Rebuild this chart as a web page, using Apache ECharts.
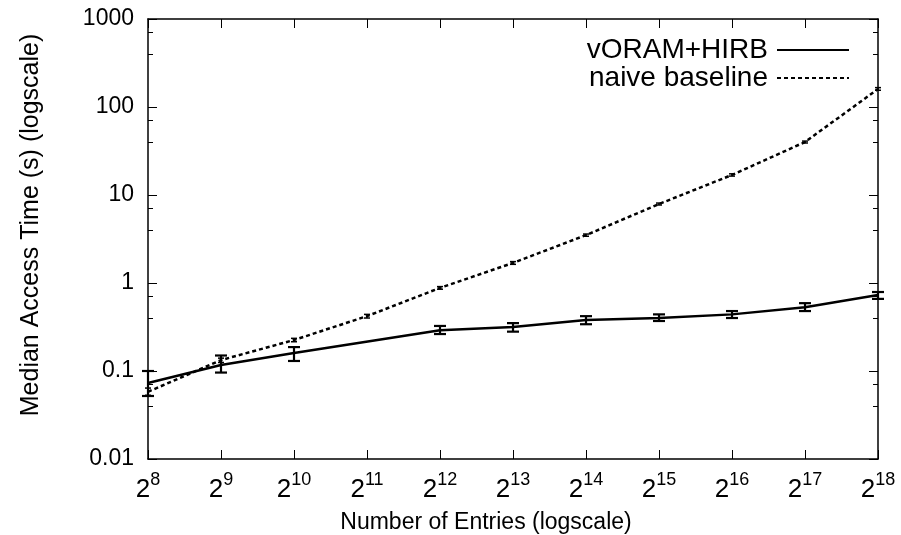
<!DOCTYPE html>
<html><head><meta charset="utf-8">
<script src="https://cdn.jsdelivr.net/npm/echarts@6/dist/echarts.min.js"></script>
<style>html,body{margin:0;padding:0;background:#fff}#c{width:901px;height:535px}</style>
</head><body><div id="c"></div>
<script>
const exponents = [8, 9, 10, 11, 12, 13, 14, 15, 16, 17, 18];
const voramMedian = [0.073, 0.117, 0.16, null, 0.29, 0.316, 0.38, 0.40, 0.44, 0.53, 0.73];
const voramLow =    [0.052, 0.096, 0.13, null, 0.263, 0.28, 0.34, 0.37, 0.40, 0.48, 0.66];
const voramHigh =   [0.10, 0.15, 0.187, null, 0.325, 0.35, 0.42, 0.44, 0.48, 0.59, 0.79];
const naiveMedian = [0.058, 0.133, 0.225, 0.42, 0.88, 1.69, 3.5, 7.9, 16.9, 40, 160];
const naiveLow =    [0.053, 0.125, 0.215, 0.40, 0.85, 1.63, 3.4, 7.7, 16.4, 39, 155];
const naiveHigh =   [0.064, 0.14, 0.235, 0.44, 0.91, 1.75, 3.6, 8.1, 17.4, 41, 166];
const yTicks = [0.01, 0.1, 1, 10, 100, 1000];

const FONT = 'Liberation Sans';
const chart = echarts.init(document.getElementById('c'));

function pairs(xs, ys) { return xs.map((x, i) => [x, ys[i]]); }
function errData(lo, hi) {
  const out = [];
  exponents.forEach((x, i) => { if (lo[i] != null) out.push([x, lo[i], hi[i]]); });
  return out;
}
function errSeries(data, cap, width) {
  return {
    type: 'custom', data: data, z: 5, silent: true,
    renderItem: function (params, api) {
      const x = api.value(0);
      const p1 = api.coord([x, api.value(1)]);
      const p2 = api.coord([x, api.value(2)]);
      const st = { stroke: '#000', lineWidth: width };
      return { type: 'group', children: [
        { type: 'line', shape: { x1: p1[0], y1: p1[1], x2: p2[0], y2: p2[1] }, style: st },
        { type: 'line', shape: { x1: p1[0] - cap, y1: p1[1], x2: p1[0] + cap, y2: p1[1] }, style: st },
        { type: 'line', shape: { x1: p2[0] - cap, y1: p2[1], x2: p2[0] + cap, y2: p2[1] }, style: st }
      ]};
    }
  };
}

const axisLine = { show: true, lineStyle: { color: '#000', width: 1.5 } };
const option = {
  animation: false,
  backgroundColor: '#fff',
  grid: { left: 148, right: 23, top: 19, bottom: 76, outerBoundsMode: 'none', containLabel: false },
  legend: {
    orient: 'vertical', right: 46, top: 31, align: 'right',
    itemWidth: 72, itemHeight: 12, itemGap: 0,
    itemStyle: { opacity: 0 },
    textStyle: { fontFamily: FONT, fontSize: 28, color: '#000', lineHeight: 26, padding: [0, 4, 0, 0] },
    data: ['vORAM+HIRB', 'naive baseline']
  },
  xAxis: [{
    type: 'value', min: 8, max: 18, interval: 1,
    name: 'Number of Entries (logscale)', nameLocation: 'middle', nameGap: 52,
    nameTextStyle: { fontFamily: FONT, fontSize: 23, color: '#000', padding: [0, 54, 0, 0] },
    axisLine: axisLine,
    axisTick: { inside: true, length: 9, lineStyle: { color: '#000', width: 1 } },
    splitLine: { show: false },
    axisLabel: {
      margin: 12,
      formatter: v => '{b|2}{s|' + v + '}',
      rich: {
        b: { fontFamily: FONT, fontSize: 26, color: '#000', verticalAlign: 'bottom' },
        s: { fontFamily: FONT, fontSize: 18, color: '#000', verticalAlign: 'top', padding: [0, 0, 14, 0] }
      }
    }
  }, {
    type: 'value', min: 8, max: 18, interval: 1, position: 'top',
    axisLine: axisLine,
    axisTick: { inside: true, length: 9, lineStyle: { color: '#000', width: 1 } },
    axisLabel: { show: false }, splitLine: { show: false }
  }],
  yAxis: [{
    type: 'log', logBase: 10, min: 0.01, max: 1000,
    name: 'Median Access Time (s) (logscale)', nameLocation: 'middle', nameGap: 104,
    nameTextStyle: { fontFamily: FONT, fontSize: 25, color: '#000', padding: [0, 0, 0, 28] },
    axisLine: axisLine,
    axisTick: { inside: true, length: 9, lineStyle: { color: '#000', width: 1 } },
    minorTick: { show: true, splitNumber: 3, length: 5, lineStyle: { color: '#000', width: 1 } },
    splitLine: { show: false },
    axisLabel: {
      margin: 14, fontFamily: FONT, fontSize: 23, color: '#000',
      formatter: v => { const t = yTicks.find(k => Math.abs(k - v) / k < 1e-6); return t != null ? String(t) : ''; }
    }
  }, {
    type: 'log', logBase: 10, min: 0.01, max: 1000, position: 'right',
    axisLine: axisLine,
    axisTick: { inside: true, length: 9, lineStyle: { color: '#000', width: 1 } },
    minorTick: { show: true, splitNumber: 3, length: 5, lineStyle: { color: '#000', width: 1 } },
    axisLabel: { show: false }, splitLine: { show: false }
  }],
  series: [
    {
      name: 'vORAM+HIRB', type: 'line', data: pairs(exponents, voramMedian),
      connectNulls: true, symbol: 'none', z: 4,
      lineStyle: { color: '#000', width: 2.5, type: 'solid' },
      itemStyle: { color: '#000' }
    },
    {
      name: 'naive baseline', type: 'line', data: pairs(exponents, naiveMedian),
      symbol: 'none', z: 3,
      lineStyle: { color: '#000', width: 2.5, type: [4, 3] },
      itemStyle: { color: '#000' }
    },
    errSeries(errData(voramLow, voramHigh), 6, 2.2),
    errSeries(errData(naiveLow, naiveHigh), 3, 1.5)
  ]
};
chart.setOption(option);
</script></body></html>
